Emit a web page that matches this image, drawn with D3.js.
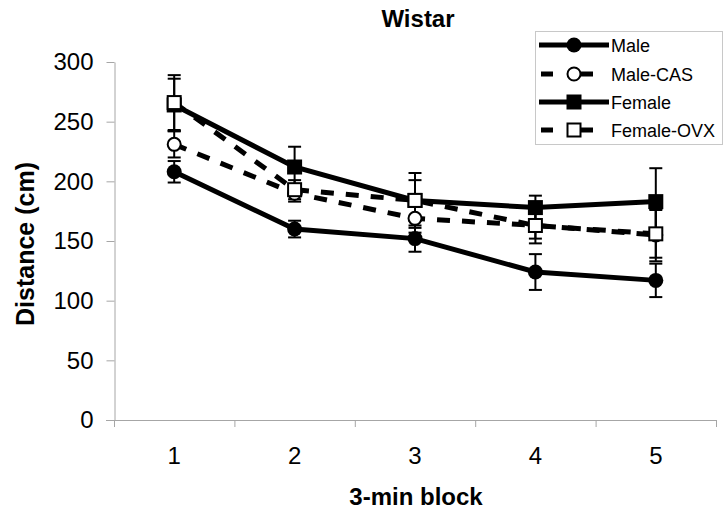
<!DOCTYPE html>
<html>
<head>
<meta charset="utf-8">
<script src="https://cdn.jsdelivr.net/npm/d3@7"></script>
<style>
  body { margin: 0; background: #fff; }
  svg { display: block; font-family: "Liberation Sans", Arial, sans-serif; }
  .axis path, .axis line { stroke: #a6a6a6; stroke-width: 1; }
  .axis text { font-size: 24px; fill: #000; }
</style>
</head>
<body>
<svg id="chart" width="726" height="516"></svg>
<script>
// blocks on the x axis
var blocks = ['1', '2', '3', '4', '5'];
var yTicks = [0, 50, 100, 150, 200, 250, 300];

// mean distance (cm) per block, and the error bar half length
var male = [208, 160, 152, 124, 117];
var maleErr = [9, 7, 11, 15, 14];
var maleCas = [231, 190, 169, 163, 155];
var maleCasErr = [11, 7, 12, 15, 22];
var female = [264, 212, 184, 178, 183];
var femaleErr = [22, 17, 17, 10, 28];
var femaleOvx = [266, 193, 184, 163, 156];
var femaleOvxErr = [23, 8, 23, 11, 20];

var series = [
  {name: 'Male', values: male, err: maleErr, dashed: false, shape: 'circle', open: false},
  {name: 'Male-CAS', values: maleCas, err: maleCasErr, dashed: true, shape: 'circle', open: true},
  {name: 'Female', values: female, err: femaleErr, dashed: false, shape: 'square', open: false},
  {name: 'Female-OVX', values: femaleOvx, err: femaleOvxErr, dashed: true, shape: 'square', open: true}
];

var svg = d3.select('#chart');
var plotL = 114, plotR = 716, plotT = 62, plotB = 420;

var x = d3.scaleBand().domain(blocks).range([plotL, plotR]);
var y = d3.scaleLinear().domain([0, 300]).range([plotB, plotT]);
var cx = function(i) { return x(blocks[i]) + x.bandwidth() / 2; };

// axes
svg.append('g')
  .attr('class', 'axis')
  .attr('transform', 'translate(' + (plotL + 0.5) + ',0)')
  .call(d3.axisLeft(y).tickValues(yTicks).tickSize(8).tickPadding(13).tickSizeOuter(0));

var xAxis = svg.append('g')
  .attr('class', 'axis')
  .attr('transform', 'translate(0,' + plotB + ')')
  .call(d3.axisBottom(x).tickSize(0).tickPadding(27));
xAxis.select('.domain').attr('d', 'M' + (plotL - 8) + ',0.5H' + plotR);
xAxis.selectAll('.bound')
  .data(d3.range(blocks.length + 1))
  .enter().append('line')
  .attr('stroke', '#a6a6a6')
  .attr('x1', function(d) { return plotL + 0.5 + d * x.bandwidth(); })
  .attr('x2', function(d) { return plotL + 0.5 + d * x.bandwidth(); })
  .attr('y1', 0).attr('y2', 7);

// titles
svg.append('text').attr('x', 418).attr('y', 27).attr('text-anchor', 'middle')
  .attr('font-size', 24).attr('font-weight', 'bold').text('Wistar');
svg.append('text').attr('x', 416).attr('y', 505).attr('text-anchor', 'middle')
  .attr('font-size', 24).attr('font-weight', 'bold').text('3-min block');
svg.append('text').attr('transform', 'translate(34,244) rotate(-90)').attr('text-anchor', 'middle')
  .attr('font-size', 25).attr('font-weight', 'bold').text('Distance (cm)');

var plot = svg.append('g');

// error bars first, so markers sit on top
series.forEach(function(s) {
  var g = plot.append('g').attr('stroke', '#000').attr('stroke-width', 2);
  s.values.forEach(function(v, i) {
    var lo = y(v - s.err[i]), hi = y(v + s.err[i]), px = cx(i);
    g.append('line').attr('x1', px).attr('x2', px).attr('y1', lo).attr('y2', hi);
    g.append('line').attr('x1', px - 6.5).attr('x2', px + 6.5).attr('y1', lo).attr('y2', lo);
    g.append('line').attr('x1', px - 6.5).attr('x2', px + 6.5).attr('y1', hi).attr('y2', hi);
  });
});

var line = d3.line().x(function(d, i) { return cx(i); }).y(function(d) { return y(d); });

series.forEach(function(s) {
  plot.append('path')
    .attr('d', line(s.values))
    .attr('fill', 'none')
    .attr('stroke', '#000')
    .attr('stroke-width', 5)
    .attr('stroke-dasharray', s.dashed ? '13,12' : null);
});

function marker(g, s, px, py) {
  var fill = s.open ? '#fff' : '#000';
  if (s.shape === 'circle') {
    g.append('circle').attr('cx', px).attr('cy', py).attr('r', s.open ? 6.5 : 7.5)
      .attr('fill', fill).attr('stroke', '#000').attr('stroke-width', s.open ? 2 : 0);
  } else {
    var h = s.open ? 6.5 : 7.5;
    g.append('rect').attr('x', px - h).attr('y', py - h).attr('width', 2 * h).attr('height', 2 * h)
      .attr('fill', fill).attr('stroke', '#000').attr('stroke-width', s.open ? 2 : 0);
  }
}

series.forEach(function(s) {
  var g = plot.append('g');
  s.values.forEach(function(v, i) { marker(g, s, cx(i), y(v)); });
});

// legend
var legend = svg.append('g');
legend.append('rect').attr('x', 535.5).attr('y', 31.5).attr('width', 187).attr('height', 113)
  .attr('fill', '#fff').attr('stroke', '#c8c8c8');
var rowY = [45, 74, 102, 130];
series.forEach(function(s, i) {
  var ly = rowY[i];
  legend.append('line').attr('x1', s.dashed ? 541 : 539).attr('x2', 609).attr('y1', ly).attr('y2', ly)
    .attr('stroke', '#000').attr('stroke-width', 5)
    .attr('stroke-dasharray', s.dashed ? '12,26,14,30' : null);
  marker(legend, s, 574, ly);
  legend.append('text').attr('x', 611).attr('y', ly + 6.5).attr('font-size', 18).text(s.name);
});
</script>
</body>
</html>
